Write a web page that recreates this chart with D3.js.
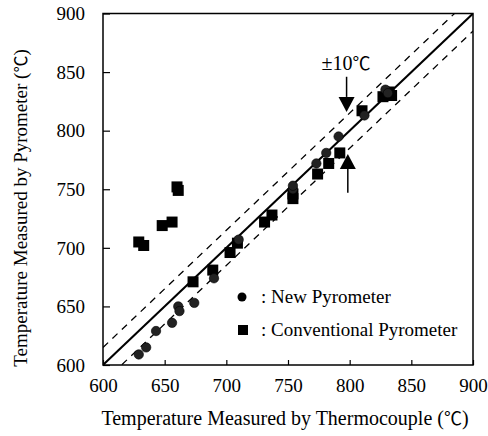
<!DOCTYPE html>
<html lang="en">
  <head>
    <meta charset="UTF-8" />
    <title>Pyrometer vs Thermocouple</title>
    <script src="https://d3js.org/d3.v7.min.js"></script>
    <style>
      body { margin: 0; background: #fff; }
    </style>
  </head>
  <body>
    <div id="chart"></div>
    <script>
      // data (deg C)
      const newX = [629, 635, 643, 656, 661, 662, 674, 690, 710, 754, 754, 773, 781, 791, 812, 829, 831];
      const newY = [609, 615, 629, 636, 650, 646, 653, 674, 707, 750, 753, 772, 781, 795, 813, 835, 832];
      const convX = [629, 633, 648, 656, 660, 661, 673, 689, 703, 709, 731, 737, 754, 754, 774, 783, 792, 810, 827, 832, 834];
      const convY = [705, 702, 719, 722, 752, 749, 671, 681, 696, 704, 722, 728, 742, 746, 763, 772, 781, 817, 829, 833, 830];
      const tickValues = [600, 650, 700, 750, 800, 850, 900];
      const bandOffset = 15;

      const serif = "Liberation Serif";
      const degFont = "Noto Sans CJK JP";

      const width = 488, height = 436;
      const margin = { top: 13.5, right: 15, bottom: 71, left: 103 };

      const x = d3.scaleLinear().domain([600, 900]).range([margin.left, width - margin.right]);
      const y = d3.scaleLinear().domain([600, 900]).range([height - margin.bottom, margin.top]);

      const svg = d3.select("#chart").append("svg")
        .attr("width", width)
        .attr("height", height)
        .attr("font-family", serif);

      const plot = svg.append("g");

      svg.append("clipPath").attr("id", "clip")
        .append("rect")
        .attr("x", x(600)).attr("y", y(900))
        .attr("width", x(900) - x(600)).attr("height", y(600) - y(900));

      const line = d3.line().x(d => x(d[0])).y(d => y(d[1]));

      // y = x and the dashed band
      plot.append("path")
        .attr("d", line([[600, 600], [900, 900]]))
        .attr("stroke", "#000").attr("stroke-width", 2).attr("fill", "none")
        .attr("clip-path", "url(#clip)");

      [bandOffset, -bandOffset].forEach(off => {
        plot.append("path")
          .attr("d", line([[600, 600 + off], [900, 900 + off]]))
          .attr("stroke", "#000").attr("stroke-width", 1.3).attr("fill", "none")
          .attr("stroke-dasharray", "7,6")
          .attr("clip-path", "url(#clip)");
      });

      // axes, ticks pointing inward
      const xAxis = d3.axisBottom(x).tickValues(tickValues).tickSize(-5).tickPadding(14).tickFormat(d3.format("d"));
      const yAxis = d3.axisLeft(y).tickValues(tickValues).tickSize(-7).tickPadding(18).tickFormat(d3.format("d"));

      const gx = svg.append("g").attr("transform", `translate(0,${y(600)})`).call(xAxis);
      const gy = svg.append("g").attr("transform", `translate(${x(600)},0)`).call(yAxis);
      [gx, gy].forEach(g => {
        g.attr("font-family", serif).attr("font-size", 19);
        g.select(".domain").remove();
        g.selectAll("line").attr("stroke", "#000").attr("stroke-width", 1.2);
        g.selectAll("text").attr("fill", "#000").attr("font-family", serif);
      });
      gy.selectAll("text").attr("dy", "0.33em");
      gx.selectAll("text").attr("dy", "0.7em");

      // frame
      svg.append("rect")
        .attr("x", x(600)).attr("y", y(900))
        .attr("width", x(900) - x(600)).attr("height", y(600) - y(900))
        .attr("fill", "none").attr("stroke", "#000").attr("stroke-width", 1.5);

      // markers
      const newPts = newX.map((v, i) => [v, newY[i]]);
      const convPts = convX.map((v, i) => [v, convY[i]]);

      plot.selectAll(".sq").data(convPts).enter().append("rect")
        .attr("class", "sq")
        .attr("x", d => x(d[0]) - 5.5).attr("y", d => y(d[1]) - 5.5)
        .attr("width", 11).attr("height", 11)
        .attr("fill", "#000");

      plot.selectAll(".ci").data(newPts).enter().append("circle")
        .attr("class", "ci")
        .attr("cx", d => x(d[0])).attr("cy", d => y(d[1]))
        .attr("r", 4.7)
        .attr("fill", "#222").attr("stroke", "#000").attr("stroke-width", 0.6);

      // annotation arrows
      function arrow(xv, fromY, toY) {
        const x0 = x(xv), y0 = y(fromY), y1 = y(toY);
        const dir = y1 > y0 ? 1 : -1;
        const headLen = 15, headW = 8;
        svg.append("line")
          .attr("x1", x0).attr("y1", y0).attr("x2", x0).attr("y2", y1 - dir * headLen)
          .attr("stroke", "#000").attr("stroke-width", 1.5);
        svg.append("path")
          .attr("d", `M${x0},${y1} L${x0 - headW},${y1 - dir * headLen} L${x0 + headW},${y1 - dir * headLen} Z`)
          .attr("fill", "#000");
      }
      arrow(797.5, 846, 816);
      arrow(798.5, 747, 780);

      const lab = svg.append("text")
        .attr("x", x(797)).attr("y", y(852))
        .attr("text-anchor", "middle")
        .attr("font-family", serif)
        .attr("font-size", 20);
      lab.append("tspan").text("±10");
      lab.append("tspan").attr("font-family", degFont).attr("font-size", 18).text("℃");

      // legend
      const lg = svg.append("g").attr("font-family", serif).attr("font-size", 19);
      lg.append("circle").attr("cx", 242).attr("cy", 297).attr("r", 4.5).attr("fill", "#000");
      lg.append("rect").attr("x", 238).attr("y", 325).attr("width", 10).attr("height", 10).attr("fill", "#000");
      lg.append("text").attr("x", 261).attr("y", 303).text(": New Pyrometer");
      lg.append("text").attr("x", 261).attr("y", 336).text(": Conventional Pyrometer");

      // axis titles
      const xt = svg.append("text")
        .attr("x", 285).attr("y", 425)
        .attr("text-anchor", "middle")
        .attr("font-family", serif)
        .attr("font-size", 20);
      xt.append("tspan").text("Temperature Measured by Thermocouple (");
      xt.append("tspan").attr("font-family", degFont).attr("font-size", 18).text("℃");
      xt.append("tspan").text(")");

      const yt = svg.append("text")
        .attr("transform", "translate(27,208) rotate(-90)")
        .attr("text-anchor", "middle")
        .attr("font-family", serif)
        .attr("font-size", 19);
      yt.append("tspan").text("Temperature  Measured by Pyrometer  (");
      yt.append("tspan").attr("font-family", degFont).attr("font-size", 17).text("℃");
      yt.append("tspan").text(")");
    </script>
  </body>
</html>
